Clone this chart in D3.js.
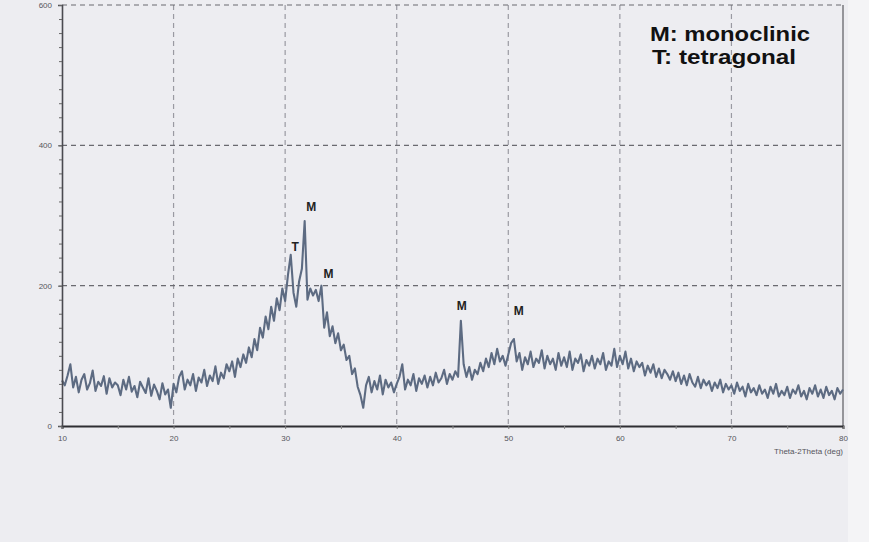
<!DOCTYPE html>
<html>
<head>
<meta charset="utf-8">
<script src="https://cdn.jsdelivr.net/npm/d3@7"></script>
<style>
  html, body { margin: 0; padding: 0; background: #ffffff; }
  svg { display: block; }
</style>
</head>
<body>
<div id="chart"></div>
<script>
// XRD pattern, 2-theta from 10 to 80 deg in 0.25 deg steps
const twoThetaStart = 10;
const twoThetaStep = 0.25;
const intensity = [
  // 10 - 15
  65,58,72,88,55,70,48,66,74,52,61,79,50,63,57,71,46,68,55,62,
  // 15 - 20
  58,44,66,52,70,49,57,41,63,55,47,68,43,59,50,38,61,45,52,26,
  // 20 - 25
  60,48,70,78,52,66,58,74,50,69,62,80,57,72,64,85,60,76,68,88,
  // 25 - 30
  78,92,70,96,84,102,90,112,98,124,108,140,126,156,138,170,150,182,165,196,
  // 30 - 35
  178,215,244,190,170,206,224,292,180,196,186,194,178,200,140,162,128,142,118,132,
  // 35 - 40
  108,116,94,100,74,82,56,44,26,58,70,48,64,52,72,45,66,55,62,48,
  // 40 - 45
  60,70,88,52,66,58,74,50,68,60,72,55,70,58,76,62,68,80,60,74,
  // 45 - 50
  66,78,70,150,88,70,84,66,80,74,90,78,96,84,104,88,110,92,100,86,
  // 50 - 55
  102,118,124,92,104,80,98,88,106,84,96,90,108,82,100,88,96,80,104,86,
  // 55 - 60
  98,84,106,80,96,90,102,78,94,86,100,82,96,88,104,80,92,86,110,84,
  // 60 - 65
  100,88,106,82,96,78,92,84,90,72,86,76,88,70,82,68,80,74,66,78,
  // 65 - 70
  64,76,60,72,58,74,62,56,70,54,66,58,64,50,62,54,66,48,60,52,
  // 70 - 75
  58,46,62,50,56,42,60,48,54,44,58,46,52,40,56,46,60,42,50,44,
  // 75 - 80
  56,40,52,46,58,42,50,38,54,46,58,42,52,40,56,44,50,38,54,46,
  52
];

const xTicks = [10, 20, 30, 40, 50, 60, 70, 80];
const xMinorTicks = [15, 25, 35, 45, 55, 65, 75];
const yTicks = [0, 200, 400, 600];
const xLabel = "Theta-2Theta (deg)";

// peak annotations
const peakTheta = [30.5, 31.75, 33.25, 45.75, 50.5];
const peakValue = [244, 292, 200, 150, 124];
const peakPhase = ["T", "M", "M", "M", "M"];
// label placement relative to the peak top (px)
const labelDx = [4.5, 6.5, 7, 1, 5];
const labelLift = [4, 10, 8, 11, 24];

const legendLines = ["M: monoclinic", "T: tetragonal"];

const width = 869;
const height = 542;

const data = intensity.map((v, i) => ({ t: twoThetaStart + i * twoThetaStep, v }));

const x = d3.scaleLinear().domain([10, 80]).range([62, 843]);
const y = d3.scaleLinear().domain([0, 600]).range([426, 5]);

const svg = d3.select("#chart").append("svg")
  .attr("width", width)
  .attr("height", height)
  .style("font-family", "'Liberation Sans', Arial, sans-serif");

// scanned paper background
svg.append("rect")
  .attr("x", 0).attr("y", 0)
  .attr("width", width).attr("height", height)
  .attr("fill", "#ededf1");
svg.append("rect")
  .attr("x", 848).attr("y", 0)
  .attr("width", width - 848).attr("height", height)
  .attr("fill", "#f4f4f6");

// dashed grid
const grid = svg.append("g")
  .attr("stroke", "#6a6a70")
  .attr("stroke-width", 1.2)
  .attr("stroke-dasharray", "5,4");

grid.selectAll(".vgrid")
  .data(xTicks.slice(1, -1))
  .enter().append("line")
  .attr("x1", d => x(d)).attr("x2", d => x(d))
  .attr("y1", y(600)).attr("y2", y(0))
  .attr("stroke", "#9a9aa2");

grid.selectAll(".hgrid")
  .data(yTicks.slice(1))
  .enter().append("line")
  .attr("x1", x(10)).attr("x2", x(80))
  .attr("y1", d => y(d)).attr("y2", d => y(d));

// right frame
svg.append("line")
  .attr("x1", x(80)).attr("x2", x(80))
  .attr("y1", y(600)).attr("y2", y(0))
  .attr("stroke", "#77777d")
  .attr("stroke-width", 1.5);

// diffraction trace
const line = d3.line()
  .x(d => x(d.t))
  .y(d => y(d.v));

svg.append("path")
  .datum(data)
  .attr("fill", "none")
  .attr("stroke", "#5d6b82")
  .attr("stroke-width", 2.1)
  .attr("stroke-linejoin", "round")
  .attr("d", line);

// axes
const xAxis = svg.append("g")
  .attr("transform", `translate(0,${y(0)})`)
  .call(d3.axisBottom(x).tickValues(xTicks).tickSize(3).tickPadding(6).tickFormat(d3.format("d")));
xAxis.select(".domain").attr("stroke", "#2e2e33").attr("stroke-width", 2);
xAxis.selectAll(".tick line").attr("stroke", "#777");
xAxis.selectAll("text").style("font-size", "8px").attr("fill", "#55555c");

svg.append("g")
  .attr("transform", `translate(0,${y(0)})`)
  .call(d3.axisBottom(x).tickValues(xMinorTicks).tickSize(3).tickFormat(""))
  .call(g => g.select(".domain").remove())
  .selectAll(".tick line").attr("stroke", "#888");

const yAxis = svg.append("g")
  .attr("transform", `translate(${x(10)},0)`)
  .call(d3.axisLeft(y).tickValues(yTicks).tickSize(4).tickPadding(6).tickFormat(d3.format("d")));
yAxis.select(".domain").attr("stroke", "#4a4a50").attr("stroke-width", 1.6);
yAxis.selectAll(".tick line").attr("stroke", "#555");
yAxis.selectAll("text").style("font-size", "8px").attr("fill", "#55555c");

svg.append("g")
  .attr("transform", `translate(${x(10)},0)`)
  .call(d3.axisLeft(y).ticks(30).tickSize(3).tickFormat(""))
  .call(g => g.select(".domain").remove())
  .selectAll(".tick line").attr("stroke", "#666");

// axis title
svg.append("text")
  .attr("x", x(80))
  .attr("y", 454)
  .attr("text-anchor", "end")
  .style("font-size", "8px")
  .attr("fill", "#55555c")
  .text(xLabel);

// peak letters
svg.selectAll(".peak")
  .data(peakTheta)
  .enter().append("text")
  .attr("x", (d, i) => x(d) + labelDx[i])
  .attr("y", (d, i) => y(peakValue[i]) - labelLift[i])
  .attr("text-anchor", "middle")
  .style("font-size", "12px")
  .style("font-weight", "bold")
  .attr("fill", "#222")
  .text((d, i) => peakPhase[i]);

// legend text
const legendWidths = [160, 144];
svg.selectAll(".legend")
  .data(legendLines)
  .enter().append("text")
  .attr("x", (d, i) => 650 + i * 2)
  .attr("y", (d, i) => 41 + i * 23)
  .attr("textLength", (d, i) => legendWidths[i])
  .attr("lengthAdjust", "spacingAndGlyphs")
  .style("font-size", "20px")
  .style("font-weight", "bold")
  .attr("fill", "#111")
  .text(d => d);
</script>
</body>
</html>
